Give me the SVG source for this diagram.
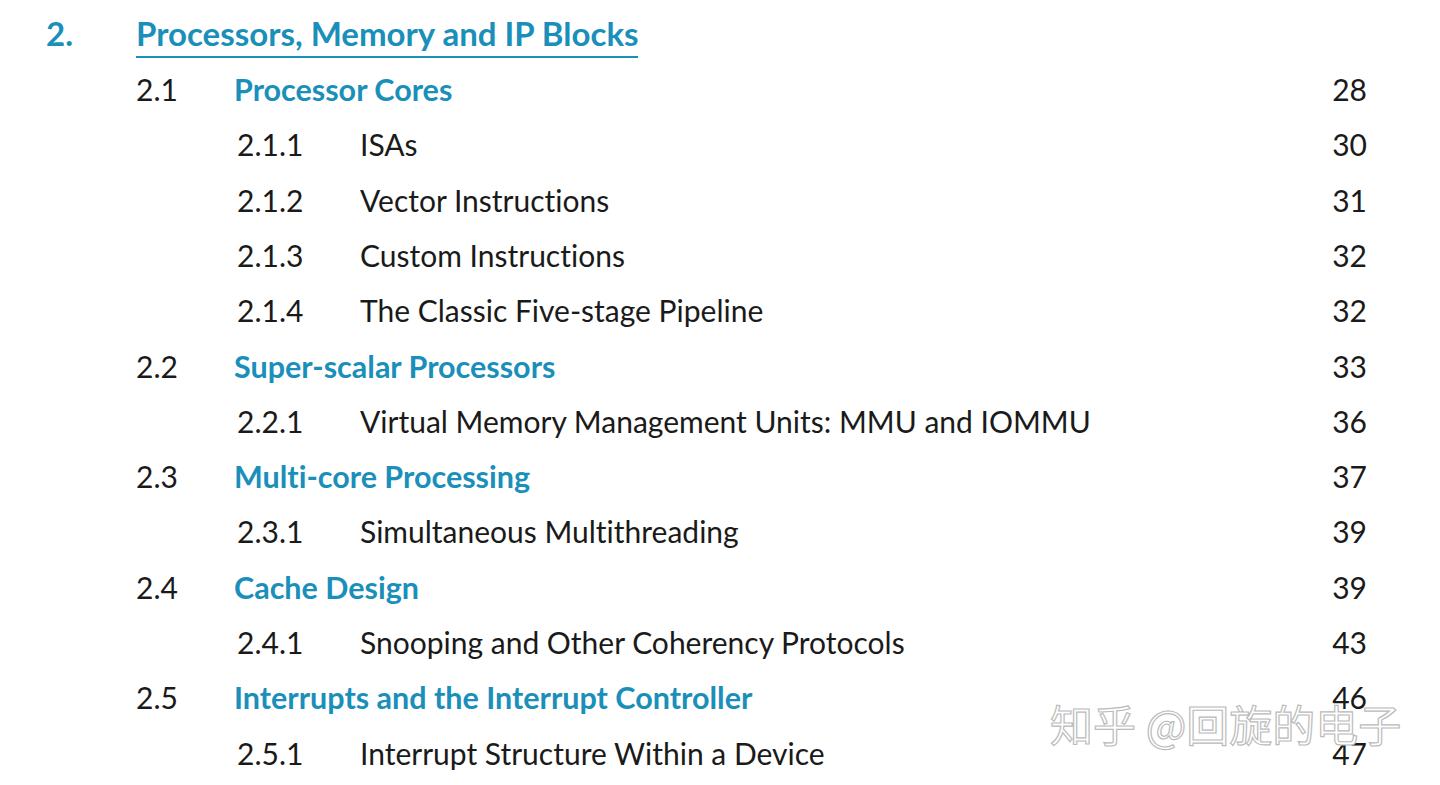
<svg xmlns="http://www.w3.org/2000/svg" width="1440" height="785" viewBox="0 0 1440 785">
<style>
text{font-family:Lato,"Noto Sans CJK SC",sans-serif;font-size:30px;fill:#1a1a1a;font-variant-ligatures:none}
.h{fill:#1a8fba;font-weight:bold;font-size:30.5px}
.t{font-size:33px}
.p{text-anchor:end}
.w{font-size:43px;fill:#fff;stroke:#bbb;stroke-width:1.2;font-family:"Noto Sans CJK SC",sans-serif}
</style>
<rect width="1440" height="785" fill="#fff"/>
<text x="46" y="46" class="h t">2.</text>
<text x="136" y="46" class="h t">Processors, Memory and IP Blocks</text>
<line x1="136" y1="57" x2="638" y2="57" stroke="#1a8fba" stroke-width="2"/>
<g>
<text x="136" y="101">2.1</text><text x="234" y="101" class="h">Processor Cores</text><text x="1367" y="101" class="p">28</text>
<text x="237" y="156">2.1.1</text><text x="360" y="156">ISAs</text><text x="1367" y="156" class="p">30</text>
<text x="237" y="212">2.1.2</text><text x="360" y="212">Vector Instructions</text><text x="1367" y="212" class="p">31</text>
<text x="237" y="267">2.1.3</text><text x="360" y="267">Custom Instructions</text><text x="1367" y="267" class="p">32</text>
<text x="237" y="322">2.1.4</text><text x="360" y="322">The Classic Five-stage Pipeline</text><text x="1367" y="322" class="p">32</text>
<text x="136" y="378">2.2</text><text x="234" y="378" class="h">Super-scalar Processors</text><text x="1367" y="378" class="p">33</text>
<text x="237" y="433">2.2.1</text><text x="360" y="433">Virtual Memory Management Units: MMU and IOMMU</text><text x="1367" y="433" class="p">36</text>
<text x="136" y="488">2.3</text><text x="234" y="488" class="h">Multi-core Processing</text><text x="1367" y="488" class="p">37</text>
<text x="237" y="543">2.3.1</text><text x="360" y="543">Simultaneous Multithreading</text><text x="1367" y="543" class="p">39</text>
<text x="136" y="599">2.4</text><text x="234" y="599" class="h">Cache Design</text><text x="1367" y="599" class="p">39</text>
<text x="237" y="654">2.4.1</text><text x="360" y="654">Snooping and Other Coherency Protocols</text><text x="1367" y="654" class="p">43</text>
<text x="136" y="709">2.5</text><text x="234" y="709" class="h">Interrupts and the Interrupt Controller</text><text x="1367" y="709" class="p">46</text>
<text x="237" y="765">2.5.1</text><text x="360" y="765">Interrupt Structure Within a Device</text><text x="1367" y="765" class="p">47</text>
</g>
<text x="1050" y="742" class="w">知乎 @回旋的电子</text>
</svg>
